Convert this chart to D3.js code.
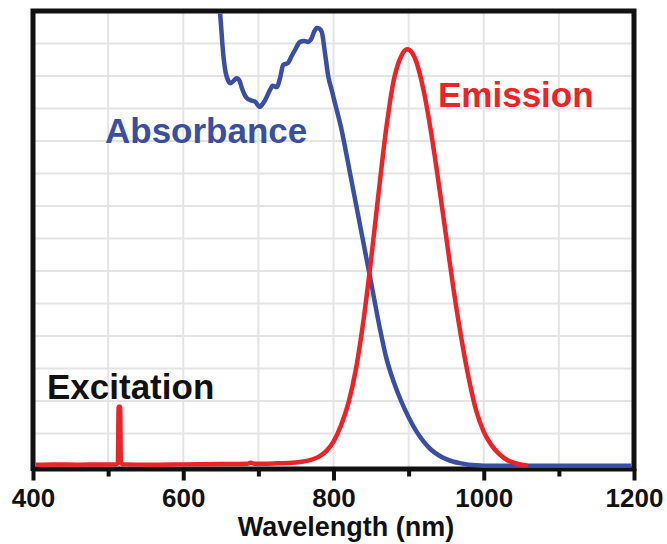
<!DOCTYPE html>
<html>
<head>
<meta charset="utf-8">
<script src="https://cdn.jsdelivr.net/npm/d3@7"></script>
<style>
  html, body { margin: 0; padding: 0; background: #ffffff; }
  svg { display: block; }
  text { font-family: "Liberation Sans", Arial, Helvetica, sans-serif; font-weight: bold; }
</style>
</head>
<body>
<svg id="chart" width="667" height="544"></svg>
<script>
// ---- data ----
const absWavelength = [646, 648.5, 650.5, 652, 654, 656.5, 660, 663, 667, 671, 675, 678, 684.5, 690, 695.5, 702, 705, 709, 715.5, 719, 724.4, 729, 733, 739.4, 744, 748.8, 755.4, 761, 766, 771, 774, 777.6, 781, 784.3, 788.7, 793.1, 797.6, 802, 810, 820, 830, 840, 850, 862, 870, 880, 890, 900, 910, 920, 930, 940, 950, 960, 970, 980, 990, 1000, 1100, 1200];
const absValue      = [14.5, 14.05, 13.5, 13.0, 12.5, 12.1, 11.85, 11.78, 11.85, 11.93, 11.85, 11.63, 11.32, 11.25, 11.21, 11.05, 11.12, 11.26, 11.57, 11.7, 11.66, 11.95, 12.34, 12.40, 12.6, 12.80, 13.05, 13.08, 13.05, 13.17, 13.35, 13.48, 13.46, 13.36, 12.70, 11.98, 11.57, 11.16, 10.42, 9.25, 8.05, 6.85, 5.65, 4.2, 3.35, 2.6, 2.0, 1.5, 1.08, 0.75, 0.5, 0.33, 0.21, 0.13, 0.08, 0.04, 0.02, 0.01, 0.01, 0.01];

const emWavelength = [400, 430, 460, 490, 510, 513, 514, 516, 517, 520, 560, 600, 650, 685, 690, 695, 720, 745, 760, 770, 780, 790, 800, 810, 820, 830, 840, 850, 860, 870, 880, 890, 898, 905, 910, 920, 930, 940, 950, 960, 970, 980, 990, 1000, 1010, 1020, 1030, 1040, 1050, 1056];
const emValue      = [0.04, 0.05, 0.04, 0.05, 0.05, 0.1, 1.82, 1.82, 0.1, 0.05, 0.04, 0.05, 0.06, 0.07, 0.1, 0.07, 0.08, 0.1, 0.14, 0.19, 0.28, 0.45, 0.75, 1.25, 1.95, 3.0, 4.5, 6.35, 8.4, 10.35, 11.85, 12.6, 12.82, 12.7, 12.45, 11.55, 10.25, 8.7, 7.05, 5.4, 3.95, 2.7, 1.7, 1.05, 0.65, 0.38, 0.2, 0.1, 0.04, 0.02];

const xMajorTicks = [400, 600, 800, 1000, 1200];
const xMinorTicks = [500, 700, 900, 1100];
const xGridValues = [500, 600, 700, 800, 900, 1000, 1100];
const yGridValues = [1, 2, 3, 4, 5, 6, 7, 8, 9, 10, 11, 12, 13];
const xTitle = "Wavelength (nm)";
const seriesLabels = ["Absorbance", "Emission", "Excitation"];

// ---- layout ----
const svg = d3.select("#chart");
const pLeft = 33, pRight = 634, pTop = 11, zeroY = 466, axisY = 468.5;
const blue = "#3a4ea4", red = "#ec2428";

const x = d3.scaleLinear().domain([400, 1200]).range([pLeft, pRight]);
const y = d3.scaleLinear().domain([0, 14]).range([zeroY, pTop]);

// gridlines
svg.append("g").selectAll("line").data(xGridValues).join("line")
  .attr("x1", d => x(d)).attr("x2", d => x(d))
  .attr("y1", pTop).attr("y2", axisY)
  .attr("stroke", "#e4e4e4").attr("stroke-width", 2);
svg.append("g").selectAll("line").data(yGridValues).join("line")
  .attr("x1", pLeft).attr("x2", pRight)
  .attr("y1", d => y(d)).attr("y2", d => y(d))
  .attr("stroke", "#e4e4e4").attr("stroke-width", 2);

// x axis with ticks
const xAxis = d3.axisBottom(x).tickValues(xMajorTicks).tickSize(12).tickSizeOuter(0).tickPadding(8).tickFormat(d3.format("d"));
const gx = svg.append("g").attr("transform", `translate(0,${axisY})`).call(xAxis);
gx.select(".domain").attr("stroke", "#111").attr("stroke-width", 5);
gx.selectAll(".tick line").attr("stroke", "#111").attr("stroke-width", 4);
gx.selectAll(".tick text").attr("fill", "#111").attr("font-size", 26)
  .attr("font-family", '"Liberation Sans", Arial, sans-serif').attr("font-weight", "bold");
const xMinorAxis = d3.axisBottom(x).tickValues(xMinorTicks).tickSize(8).tickSizeOuter(0).tickFormat("");
const gxm = svg.append("g").attr("transform", `translate(0,${axisY})`).call(xMinorAxis);
gxm.select(".domain").remove();
gxm.selectAll(".tick line").attr("stroke", "#111").attr("stroke-width", 4);

// frame (left, top, right)
svg.append("path")
  .attr("d", `M${pLeft},${axisY + 2.5} L${pLeft},${pTop} L${pRight},${pTop} L${pRight},${axisY + 2.5}`)
  .attr("fill", "none").attr("stroke", "#111").attr("stroke-width", 5).attr("stroke-linejoin", "miter");

// clip
svg.append("clipPath").attr("id", "plotclip").append("rect")
  .attr("x", pLeft + 2.5).attr("y", pTop + 2.5).attr("width", pRight - pLeft - 5).attr("height", axisY + 4 - pTop - 2.5);

const absData = absWavelength.map((w, i) => [w, absValue[i]]);
const emData = emWavelength.map((w, i) => [w, emValue[i]]);
const line = d3.line().x(d => x(d[0])).y(d => y(d[1])).curve(d3.curveMonotoneX);

const plot = svg.append("g").attr("clip-path", "url(#plotclip)");
plot.append("path").datum(absData).attr("d", line)
  .attr("fill", "none").attr("stroke", blue).attr("stroke-width", 4.5)
  .attr("stroke-linejoin", "round").attr("stroke-linecap", "round");
plot.append("path").datum(emData).attr("d", line)
  .attr("fill", "none").attr("stroke", red).attr("stroke-width", 4.5)
  .attr("stroke-linejoin", "round").attr("stroke-linecap", "round");

// labels
svg.append("text").attr("x", 105).attr("y", 143).attr("font-size", 35).attr("fill", blue).text(seriesLabels[0]);
svg.append("text").attr("x", 438).attr("y", 107).attr("font-size", 35).attr("fill", red).text(seriesLabels[1]);
svg.append("text").attr("x", 47).attr("y", 399).attr("font-size", 35).attr("fill", "#111").text(seriesLabels[2]);

// axis title
svg.append("text").attr("x", 346).attr("y", 536).attr("text-anchor", "middle")
  .attr("font-size", 27).attr("fill", "#111").text(xTitle);
</script>
</body>
</html>
